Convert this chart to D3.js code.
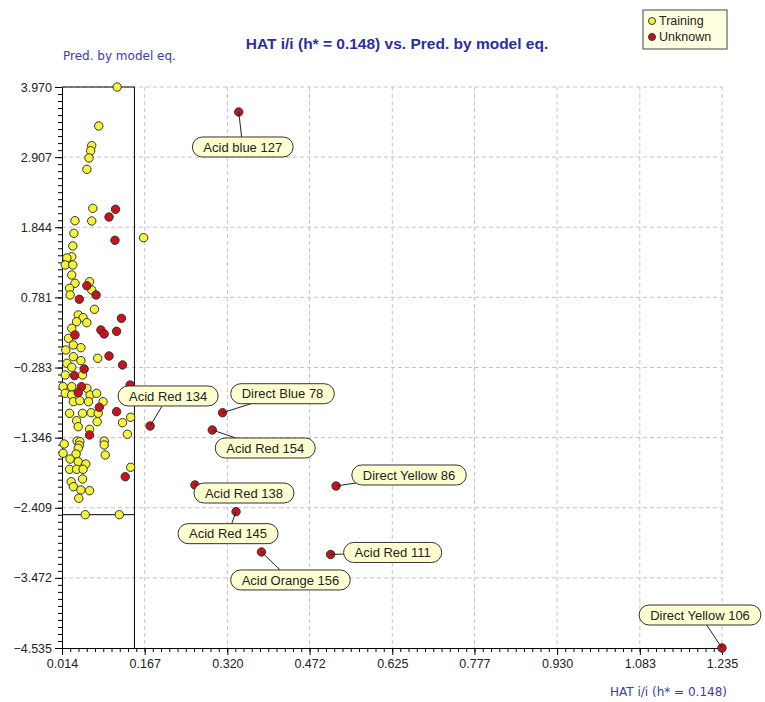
<!DOCTYPE html>
<html>
<head>
<meta charset="utf-8">
<script src="https://cdn.jsdelivr.net/npm/d3@7"></script>
<style>
body { margin: 0; background: #fff; }
text { font-family: "Liberation Sans", Arial, sans-serif; }
</style>
</head>
<body>
<div id="chart"></div>
<script>
// training set: leverage (HAT i/i) and predicted value
var trainHat = [0.116,0.082,0.069,0.067,0.064,0.060,0.071,0.069,0.165,0.038,0.036,0.034,0.032,0.023,0.020,0.034,0.032,0.065,0.038,0.069,
 0.028,0.029,0.074,0.044,0.053,0.060,0.041,0.032,0.026,0.035,0.049,0.021,0.035,0.049,0.080,0.023,0.032,0.020,0.052,0.016,
 0.032,0.020,0.032,0.060,0.066,0.078,0.035,0.047,0.063,0.090,0.028,0.052,0.068,0.081,0.126,0.141,0.041,0.079,0.044,0.065,
 0.135,0.042,0.047,0.046,0.044,0.018,0.092,0.092,0.016,0.040,0.094,0.029,0.044,0.058,0.028,0.041,0.053,0.141,0.052,0.031,
 0.035,0.049,0.065,0.045,0.057,0.120];
var trainPred = [3.970,3.379,3.080,3.004,2.894,2.722,2.131,1.939,1.685,1.943,1.752,1.560,1.397,1.378,1.272,1.272,1.120,1.018,0.994,0.893,
 0.918,0.817,0.600,0.514,0.473,0.397,0.412,0.312,0.160,0.059,0.018,-0.017,-0.119,-0.179,-0.143,-0.219,-0.279,-0.396,-0.396,-0.573,
 -0.573,-0.674,-0.699,-0.598,-0.699,-0.674,-0.801,-0.786,-0.801,-0.801,-0.977,-0.977,-0.968,-0.977,-1.119,-1.037,-1.089,-1.104,-1.180,-1.219,
 -1.295,-1.397,-1.407,-1.462,-1.507,-1.442,-1.397,-1.457,-1.583,-1.594,-1.609,-1.670,-1.711,-1.745,-1.826,-1.826,-1.826,-1.795,-1.973,-2.014,
 -2.089,-2.139,-2.150,-2.265,-2.514,-2.514];

// unknown set
var unkHat = [0.113,0.101,0.112,0.060,0.077,0.046,0.124,0.086,0.092,0.115,0.038,0.101,0.126,0.055,0.037,0.050,0.044,0.140,0.083,0.115,0.065,0.131,
 0.341,0.177,0.311,0.292,0.260,0.521,0.336,0.383,0.511,1.235];
var unkPred = [2.116,1.999,1.646,0.958,0.817,0.752,0.463,0.286,0.226,0.266,0.210,-0.108,-0.244,-0.305,-0.407,-0.573,-0.664,-0.548,-0.886,-0.952,-1.306,-1.938,
 3.591,-1.169,-0.968,-1.230,-2.064,-2.079,-2.468,-3.079,-3.117,-4.535];
var unkName = ["","","","","","","","","","","","","","","","","","","","","","",
 "Acid blue 127","Acid Red 134","Direct Blue 78","Acid Red 154","Acid Red 138","Direct Yellow 86","Acid Red 145","Acid Orange 156","Acid Red 111","Direct Yellow 106"];

var hStar = 0.148;
var xTicks = [0.014,0.167,0.320,0.472,0.625,0.777,0.930,1.083,1.235];
var yTicks = [3.970,2.907,1.844,0.781,-0.283,-1.346,-2.409,-3.472,-4.535];

// label placement (pixel offset of the callout from its point)
var labelDx = {"Acid blue 127":4,"Acid Red 134":18,"Direct Blue 78":60,"Acid Red 154":53,"Acid Red 138":49,"Direct Yellow 86":73,
 "Acid Red 145":-8,"Acid Orange 156":29,"Acid Red 111":62,"Direct Yellow 106":-22};
var labelDy = {"Acid blue 127":35,"Acid Red 134":-30,"Direct Blue 78":-19,"Acid Red 154":18,"Acid Red 138":8,"Direct Yellow 86":-11,
 "Acid Red 145":22,"Acid Orange 156":28,"Acid Red 111":-2,"Direct Yellow 106":-33};

var W = 765, H = 702;
var svg = d3.select("#chart").append("svg").attr("width", W).attr("height", H);
var x = d3.scaleLinear().domain([xTicks[0], xTicks[xTicks.length-1]]).range([62, 722]);
var y = d3.scaleLinear().domain([yTicks[yTicks.length-1], yTicks[0]]).range([648, 87]);
var blue = "#2d2d9c";
var blue2 = "#3a3ab0";

// grid
svg.append("g").selectAll("line").data(xTicks.slice(1)).enter().append("line")
 .attr("x1", d => x(d)).attr("x2", d => x(d)).attr("y1", y.range()[1]).attr("y2", y.range()[0])
 .attr("stroke", "#c4c4c4").attr("stroke-dasharray", "4,3");
svg.append("g").selectAll("line").data(yTicks.slice(0, -1)).enter().append("line")
 .attr("y1", d => y(d)).attr("y2", d => y(d)).attr("x1", x.range()[0]).attr("x2", x.range()[1])
 .attr("stroke", "#c4c4c4").attr("stroke-dasharray", "4,3");

// minor ticks
var xd = x.domain(), yd = y.domain();
var xMinor = d3.range(0, 81).map(i => xd[0] + i*(xd[1]-xd[0])/80);
var yMinor = d3.range(0, 81).map(i => yd[0] + i*(yd[1]-yd[0])/80);
svg.append("g").attr("transform", "translate(0," + y.range()[0] + ")")
 .call(d3.axisBottom(x).tickValues(xMinor).tickSize(4).tickFormat(""))
 .call(g => g.select(".domain").remove());
svg.append("g").attr("transform", "translate(" + x.range()[0] + ",0)")
 .call(d3.axisLeft(y).tickValues(yMinor).tickSize(4).tickFormat(""))
 .call(g => g.select(".domain").remove());

// major axes
var xAxis = svg.append("g").attr("transform", "translate(0," + y.range()[0] + ")")
 .call(d3.axisBottom(x).tickValues(xTicks).tickSize(7).tickPadding(4).tickSizeOuter(0).tickFormat(d3.format(".3f")));
var yAxis = svg.append("g").attr("transform", "translate(" + x.range()[0] + ",0)")
 .call(d3.axisLeft(y).tickValues(yTicks).tickSize(7).tickPadding(3).tickSizeOuter(0).tickFormat(d3.format(".3f")));
[xAxis, yAxis].forEach(function(a){
 a.selectAll("text").attr("fill", "#222").style("font-size", "12.5px");
 a.select(".domain").attr("stroke", "#000");
});

// applicability domain: h* line and training range
var tExt = d3.extent(trainPred);
svg.append("line").attr("x1", x(hStar)).attr("x2", x(hStar)).attr("y1", y(yd[1])).attr("y2", y(yd[0])).attr("stroke", "#000");
svg.append("line").attr("x1", x(xd[0])).attr("x2", x(hStar)).attr("y1", y(tExt[1])).attr("y2", y(tExt[1])).attr("stroke", "#000");
svg.append("line").attr("x1", x(xd[0])).attr("x2", x(hStar)).attr("y1", y(tExt[0])).attr("y2", y(tExt[0])).attr("stroke", "#000");

// points
svg.append("g").selectAll("circle").data(trainHat).enter().append("circle")
 .attr("cx", d => x(d)).attr("cy", (d, i) => y(trainPred[i])).attr("r", 4.2)
 .attr("fill", "#f4f43a").attr("stroke", "#333").attr("stroke-width", 1);
svg.append("g").selectAll("circle").data(unkHat).enter().append("circle")
 .attr("cx", d => x(d)).attr("cy", (d, i) => y(unkPred[i])).attr("r", 4.2)
 .attr("fill", "#c8121c").attr("stroke", "#333").attr("stroke-width", 1);

// callouts
var lab = svg.append("g");
unkName.forEach(function(n, i){
 if (n == "") return;
 var px = x(unkHat[i]), py = y(unkPred[i]);
 var cx = px + labelDx[n], cy = py + labelDy[n];
 lab.append("line").attr("x1", px).attr("y1", py).attr("x2", cx).attr("y2", cy).attr("stroke", "#222");
 var g = lab.append("g");
 var t = g.append("text").attr("x", cx).attr("y", cy).attr("dy", "0.35em").attr("text-anchor", "middle")
  .attr("fill", "#222").style("font-size", "13px").text(n);
 var w = t.node().getComputedTextLength() + 22;
 g.insert("rect", "text").attr("x", cx - w/2).attr("y", cy - 10).attr("width", w).attr("height", 20)
  .attr("rx", 10).attr("fill", "#ffffcf").attr("stroke", "#333");
});

// titles
svg.append("text").attr("x", 397).attr("y", 49).attr("text-anchor", "middle").attr("fill", blue)
 .style("font-size", "15.5px").style("font-weight", "bold").text("HAT i/i (h* = 0.148) vs. Pred. by model eq.");
svg.append("text").attr("x", 63).attr("y", 60).attr("fill", blue2)
 .style("font-family", "'DejaVu Sans', sans-serif").style("font-size", "12px").text("Pred. by model eq.");
svg.append("text").attr("x", 727).attr("y", 696).attr("text-anchor", "end").attr("fill", blue2)
 .style("font-family", "'DejaVu Sans', sans-serif").style("font-size", "12px").text("HAT i/i (h* = 0.148)");

// legend
var lg = svg.append("g").attr("transform", "translate(643,10)");
lg.append("rect").attr("width", 84).attr("height", 39).attr("fill", "#ffffe1").attr("stroke", "#444");
[["Training", "#f4f43a"], ["Unknown", "#c8121c"]].forEach(function(d, i){
 lg.append("circle").attr("cx", 9).attr("cy", 11 + i*16).attr("r", 3.5).attr("fill", d[1]).attr("stroke", "#333");
 lg.append("text").attr("x", 16).attr("y", 11 + i*16).attr("dy", "0.35em").attr("fill", "#222").style("font-size", "12.5px").text(d[0]);
});
</script>
</body>
</html>
